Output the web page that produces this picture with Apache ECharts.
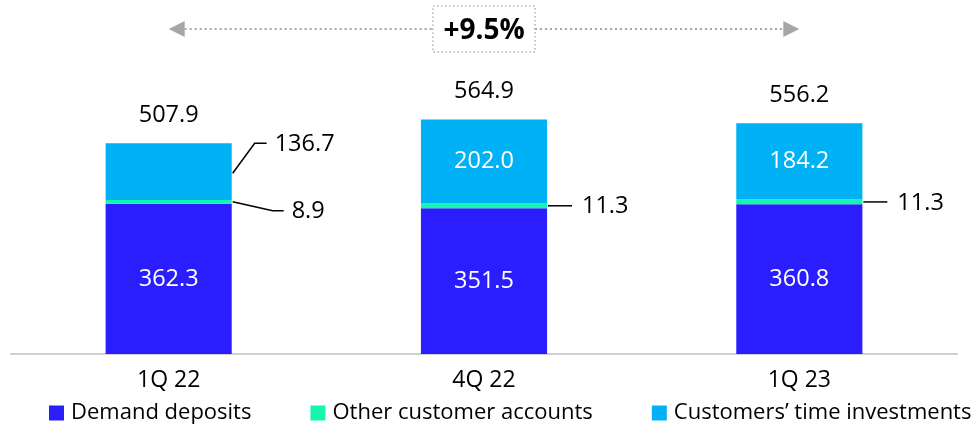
<!DOCTYPE html>
<html>
<head>
<meta charset="utf-8">
<script src="https://cdn.jsdelivr.net/npm/echarts@6/dist/echarts.min.js"></script>
<style>
  html, body { margin: 0; padding: 0; background: #fff; }
  #chart { width: 979px; height: 428px; }
</style>
</head>
<body>
<div id="chart"></div>
<script>
// Customer deposits by quarter (stacked)
const quarters = ['1Q 22', '4Q 22', '1Q 23'];
const demandDeposits = [362.3, 351.5, 360.8];
const otherAccounts = [8.9, 11.3, 11.3];
const timeInvestments = [136.7, 202.0, 184.2];
const totals = [507.9, 564.9, 556.2];
const growthLabel = '+9.5%';
const seriesNames = ['Demand deposits', 'Other customer accounts', 'Customers’ time investments'];

const FONT = '"Open Sans", "Noto Sans", sans-serif';
const COLORS = ['#2A1EFF', '#16F5B0', '#00B2F5'];
const NUM_SIZE = 23.5;

const chart = echarts.init(document.getElementById('chart'), null, { renderer: 'canvas' });

const whiteLabel = {
  show: true,
  position: 'inside',
  color: '#fff',
  fontSize: NUM_SIZE,
  fontFamily: FONT,
  formatter: p => p.value.toFixed(1)
};

chart.setOption({
  animation: false,
  textStyle: { fontFamily: FONT },
  grid: { left: 11, right: 22, top: 105, bottom: 74 },
  legend: {
    left: 49,
    top: 402,
    padding: 0,
    itemWidth: 15,
    itemHeight: 15,
    itemGap: 59,
    icon: 'rect',
    selectedMode: false,
    textStyle: { fontSize: 22, color: '#000', fontFamily: FONT, padding: [0, 0, 0, 2] },
    data: seriesNames
  },
  xAxis: {
    type: 'category',
    data: quarters,
    axisLine: { lineStyle: { color: '#cfcfcf', width: 2 } },
    axisTick: { show: false },
    axisLabel: { fontSize: 23, color: '#000', margin: 15, fontFamily: FONT }
  },
  yAxis: { type: 'value', min: 0, max: 600, show: false, splitLine: { show: false } },
  series: [
    {
      name: seriesNames[0], type: 'bar', stack: 'total', barWidth: '40%',
      itemStyle: { color: COLORS[0] },
      label: whiteLabel,
      data: demandDeposits
    },
    {
      name: seriesNames[1], type: 'bar', stack: 'total', barWidth: '40%',
      itemStyle: { color: COLORS[1] },
      data: otherAccounts
    },
    {
      name: seriesNames[2], type: 'bar', stack: 'total', barWidth: '40%',
      itemStyle: { color: COLORS[2] },
      label: Object.assign({}, whiteLabel, {
        formatter: p => (p.dataIndex === 0 ? '' : p.value.toFixed(1))
      }),
      data: timeInvestments
    }
  ]
});

// Annotations placed through the chart's own coordinate system
function px(i, v) { return chart.convertToPixel({ gridIndex: 0 }, [i, v]); }
const barHalf = 126 / 2;
const gfx = [];
const lineStyle = { stroke: '#000', lineWidth: 1.5 };
const textStyle = (x, y, t, extra) => Object.assign({
  type: 'text', x: x, y: y,
  style: Object.assign({ text: t, fontSize: NUM_SIZE, fontFamily: FONT, fill: '#000', textVerticalAlign: 'middle' }, extra || {})
});

// totals above each bar
totals.forEach((t, i) => {
  const p = px(i, t);
  gfx.push(textStyle(p[0], p[1] - 28, t.toFixed(1), { textAlign: 'center' }));
});

// 1Q 22 time investments label with elbow leader
{
  const base = demandDeposits[0] + otherAccounts[0];
  const pMid = px(0, base + timeInvestments[0] * 0.47);
  const pTop = px(0, totals[0]);
  const x0 = pMid[0] + barHalf + 1;
  gfx.push({ type: 'polyline', shape: { points: [[x0, pMid[1]], [x0 + 22, pTop[1]], [x0 + 34, pTop[1]]] }, style: Object.assign({ fill: null }, lineStyle) });
  gfx.push(textStyle(x0 + 42, pTop[1] + 1, timeInvestments[0].toFixed(1)));
}
// 1Q 22 other accounts label
{
  const p = px(0, demandDeposits[0] + otherAccounts[0] / 2);
  const x0 = p[0] + barHalf + 1;
  gfx.push({ type: 'polyline', shape: { points: [[x0, p[1]], [x0 + 40, p[1] + 9], [x0 + 51, p[1] + 9]] }, style: Object.assign({ fill: null }, lineStyle) });
  gfx.push(textStyle(x0 + 59, p[1] + 10, otherAccounts[0].toFixed(1)));
}
// 4Q 22 and 1Q 23 other accounts labels
[1, 2].forEach(i => {
  const p = px(i, demandDeposits[i] + otherAccounts[i] / 2);
  const x0 = p[0] + barHalf + 1;
  gfx.push({ type: 'line', shape: { x1: x0, y1: p[1], x2: x0 + 24, y2: p[1] }, style: lineStyle });
  gfx.push(textStyle(x0 + 34, p[1] + 1, otherAccounts[i].toFixed(1)));
});

// growth arrow spanning first to last quarter
{
  const y = 29;
  const xl = px(0, 0)[0];
  const xr = px(2, 0)[0];
  const xm = px(1, 0)[0];
  const boxW = 102, boxH = 46;
  const grey = '#a6a6a6';
  const dotted = { stroke: grey, lineWidth: 2, lineDash: [2, 3] };
  gfx.push({ type: 'line', shape: { x1: xl + 16, y1: y, x2: xm - boxW / 2, y2: y }, style: dotted });
  gfx.push({ type: 'line', shape: { x1: xm + boxW / 2, y1: y, x2: xr - 16, y2: y }, style: dotted });
  gfx.push({ type: 'polygon', shape: { points: [[xl, y], [xl + 16, y - 8], [xl + 16, y + 8]] }, style: { fill: grey } });
  gfx.push({ type: 'polygon', shape: { points: [[xr, y], [xr - 16, y - 8], [xr - 16, y + 8]] }, style: { fill: grey } });
  gfx.push({ type: 'rect', shape: { x: xm - boxW / 2, y: 6, width: boxW, height: boxH }, style: { fill: '#fff', stroke: '#b0b0b0', lineWidth: 1.5, lineDash: [1.5, 2.5] } });
  gfx.push(textStyle(xm, 31, growthLabel, { textAlign: 'center', fontSize: 28, fontWeight: 'bold' }));
}

chart.setOption({ graphic: gfx });
</script>
</body>
</html>
